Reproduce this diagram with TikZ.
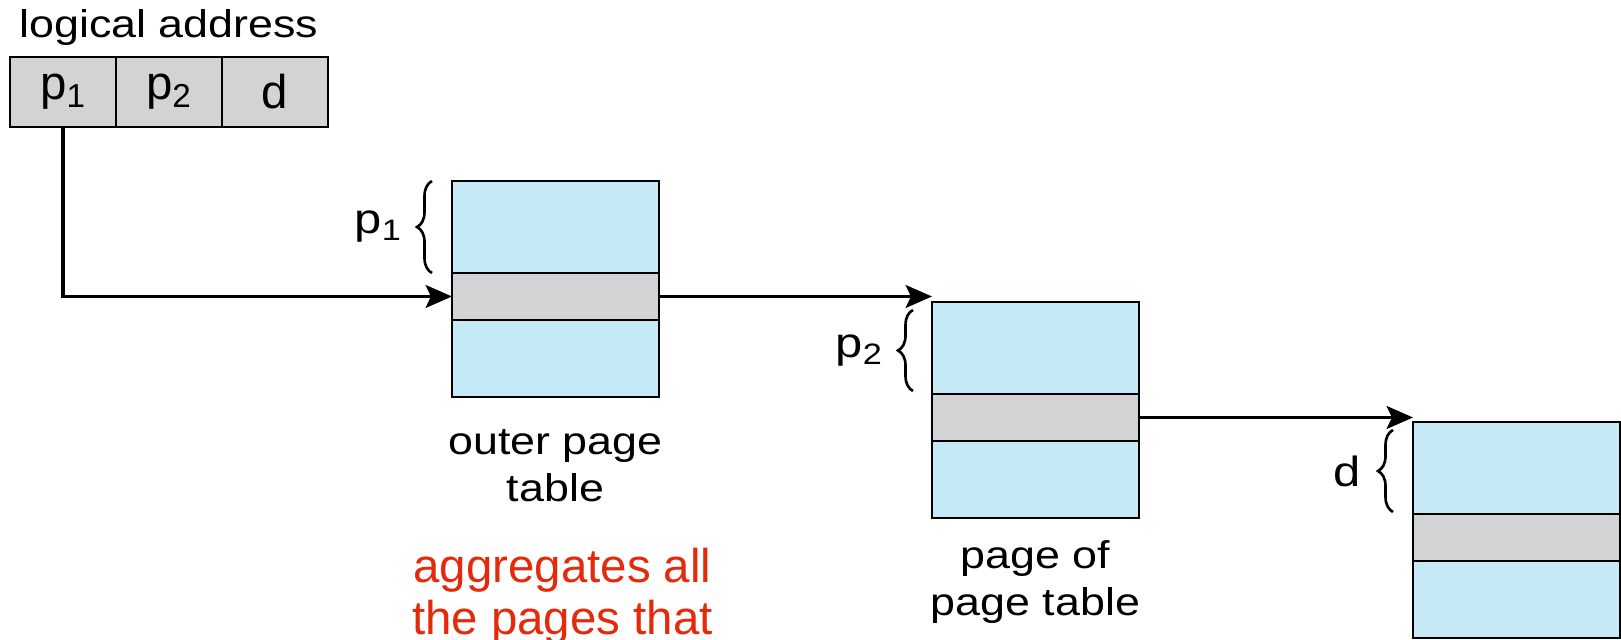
\documentclass[tikz,border=0pt]{standalone}
\usepackage{fontspec}
\setmainfont{Liberation Sans}
\newfontfamily\widefont[FakeStretch=1.16]{Liberation Sans}
\usetikzlibrary{arrows.meta,positioning,decorations.pathreplacing}
\definecolor{tblblue}{HTML}{C6E9F8}
\definecolor{cellgray}{HTML}{D1D3D4}
\definecolor{notered}{HTML}{E52A0C}

\begin{document}
\begin{tikzpicture}[x=0.02cm, y=-0.02cm,
    addrcell/.style={draw, line width=1.4pt, fill=cellgray, minimum width=2.12cm,
                     minimum height=1.4cm, inner sep=0pt, outer sep=0pt,
                     font=\fontsize{27}{30}\selectfont},
    tblcell/.style={draw, line width=1.4pt, minimum width=4.14cm, inner sep=0pt, outer sep=0pt},
    entry/.style={tblcell, fill=tblblue, minimum height=1.84cm},
    hit/.style={tblcell, fill=cellgray, minimum height=0.94cm},
    rest/.style={tblcell, fill=tblblue, minimum height=1.54cm},
    caption/.style={align=center, inner sep=0pt, font=\widefont\fontsize{22}{27}\selectfont},
    ptr/.style={line width=1.8pt, -{Stealth[length=15pt, width=13pt, inset=3pt]}},
    idx/.style={decorate, decoration={brace, amplitude=0.3cm}, line width=1.5pt},
    idxlbl/.style={inner sep=0pt, font=\widefont\fontsize{24}{27}\selectfont}
  ]
  \path[use as bounding box, clip] (0,0) rectangle (1621,639);

  % logical address
  \node[addrcell, anchor=north west] (ap1) at (10,57) {p\textsubscript{1}};
  \node[addrcell, right=0pt of ap1] (ap2) {p\textsubscript{2}};
  \node[addrcell, right=0pt of ap2] (ad) {d};
  \node[caption, above=0.22cm of ap2] (laddr) {logical address};

  % outer page table
  \node[entry, anchor=north west] (otop) at (452,181) {};
  \node[hit, below=0pt of otop] (omid) {};
  \node[rest, below=0pt of omid] (obot) {};
  \node[caption, below=0.64cm of obot] (ocap) {outer page\\table};

  % page of page table
  \node[entry, anchor=north west] (mtop) at (932,302) {};
  \node[hit, below=0pt of mtop] (mmid) {};
  \node[rest, below=0pt of mmid] (mbot) {};
  \node[caption, below=0.44cm of mbot] (mcap) {page of\\page table};

  % page
  \node[entry, anchor=north west] (rtop) at (1413,422) {};
  \node[hit, below=0pt of rtop] (rmid) {};
  \node[rest, below=0pt of rmid] (rbot) {};

  \node[caption, font=\fontsize{27}{30}\selectfont, text=notered,
        below=0.9cm of ocap, xshift=0.14cm] (note) {aggregates all\\the pages that};

  % pointers
  \draw[ptr] (ap1.south) |- (omid.west);
  \draw[ptr] (omid.east) -- (omid.east -| mtop.north west);
  \draw[ptr] (mmid.east) -- (mmid.east -| rtop.north west);

  % index braces
  \draw[idx] ([xshift=-0.4cm]otop.south west) -- ([xshift=-0.4cm]otop.north west)
    node[midway, left=0.58cm, idxlbl] {p\textsubscript{1}};
  \draw[idx] ([xshift=-0.38cm, yshift=0.06cm]mtop.south west) -- ([xshift=-0.38cm, yshift=-0.16cm]mtop.north west)
    node[midway, left=0.58cm, idxlbl] {p\textsubscript{2}};
  \draw[idx] ([xshift=-0.4cm, yshift=0.04cm]rtop.south west) -- ([xshift=-0.4cm, yshift=-0.16cm]rtop.north west)
    node[midway, left=0.62cm, idxlbl] {d};
\end{tikzpicture}
\end{document}
